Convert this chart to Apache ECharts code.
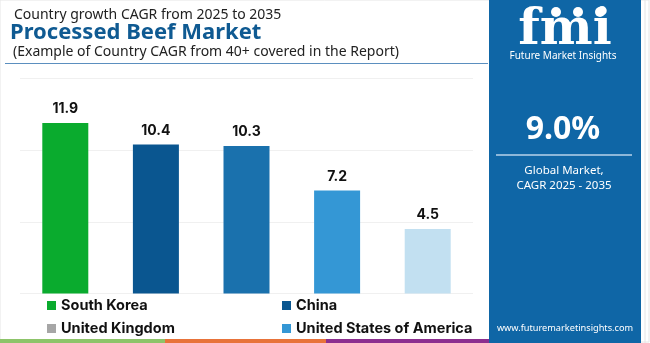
<!DOCTYPE html>
<html>
<head>
<meta charset="utf-8">
<script src="https://cdn.jsdelivr.net/npm/echarts@6/dist/echarts.min.js"></script>
<style>html,body{margin:0;padding:0;background:#fff;}#c{width:650px;height:343px;}</style>
</head>
<body>
<div id="c"></div>
<script>
const categories = ['South Korea', 'China', 'United Kingdom', 'United States of America', 'Other'];
const values = [11.9, 10.4, 10.3, 7.2, 4.5];
const barColors = ['#0aab2e', '#0a5690', '#1a71ad', '#3497d5', '#c2e0f1'];
const legendLeft = ['South Korea', 'United Kingdom'];
const legendRight = ['China', 'United States of America'];
const legendColors = {'South Korea': '#0aab2e', 'China': '#0a5690', 'United Kingdom': '#a6a6a6', 'United States of America': '#3497d5'};
const yTicks = [0, 5, 10, 15];

const chart = echarts.init(document.getElementById('c'), null, {renderer: 'canvas'});
const series = categories.map((name, i) => ({
  name: name,
  type: 'bar',
  barWidth: 46,
  barGap: '-100%',
  data: categories.map((c, j) => j === i ? values[i] : '-'),
  itemStyle: {color: barColors[i]},
  label: {show: true, position: 'top', distance: 7, color: '#111', fontWeight: 'bold', fontSize: 14, fontFamily: 'Inter'}
}));
const legendText = {color: '#111', fontWeight: 'bold', fontSize: 14.5, fontFamily: 'Inter'};
function mkLegend(names, left) {
  return {
    orient: 'vertical', left: left, top: 293, height: 80, itemWidth: 9, itemHeight: 9, itemGap: 8,
    icon: 'rect', textStyle: legendText, selectedMode: false,
    data: names.map(n => ({name: n, itemStyle: {color: legendColors[n]}}))
  };
}
chart.setOption({
  animation: false,
  backgroundColor: '#fff',
  grid: {left: 20, right: 177, top: 78.6, bottom: 49.4},
  xAxis: {type: 'category', data: categories, axisLine: {show: false}, axisTick: {show: false}, axisLabel: {show: false}},
  yAxis: {type: 'value', min: yTicks[0], max: yTicks[yTicks.length - 1], interval: 5, axisLabel: {show: false},
    splitLine: {lineStyle: {color: '#f0f0f0', width: 1}}},
  legend: [mkLegend(legendLeft, 42), mkLegend(legendRight, 277)],
  series: series,
  graphic: [
    {type: 'rect', shape: {x: 0, y: 0, width: 649, height: 342}, style: {fill: 'none', stroke: '#e6e6e6', lineWidth: 1}, z: -1},
    {type: 'text', x: 14, y: 15, style: {text: 'Country growth CAGR from 2025 to 2035', fill: '#222', font: '14px "Noto Sans"', verticalAlign: 'middle'}},
    {type: 'text', x: 10, y: 33, style: {text: 'Processed Beef Market', fill: '#0f5a92', font: 'bold 22px "Noto Sans"', verticalAlign: 'middle'}},
    {type: 'text', x: 13, y: 52, style: {text: '(Example of Country CAGR from 40+ covered in the Report)', fill: '#222', font: '14px "Noto Sans"', verticalAlign: 'middle'}},
    {type: 'line', shape: {x1: 5, y1: 63.5, x2: 488, y2: 63.5}, style: {stroke: '#5b8fbf', lineWidth: 1}},
    {type: 'rect', shape: {x: 0, y: 339, width: 165, height: 4}, style: {fill: '#8dc46a'}},
    {type: 'rect', shape: {x: 165, y: 339, width: 161, height: 4}, style: {fill: '#e8733a'}},
    {type: 'rect', shape: {x: 326, y: 339, width: 163, height: 4}, style: {fill: '#8c2e8f'}},
    {type: 'rect', shape: {x: 489, y: 0, width: 152, height: 343}, style: {fill: '#0f66a6'}},
    {type: 'line', shape: {x1: 645, y1: 0, x2: 645, y2: 343}, style: {stroke: '#e4e4e4', lineWidth: 1}},
    {type: 'text', x: 565, y: 31, style: {text: 'fmi', fill: '#fff', font: 'bold 50px "DejaVu Serif"', align: 'center', verticalAlign: 'middle'}},
    {type: 'circle', shape: {cx: 556, cy: 12, r: 5}, style: {fill: '#fff'}},
    {type: 'circle', shape: {cx: 578, cy: 12, r: 5}, style: {fill: '#fff'}},
    {type: 'circle', shape: {cx: 600, cy: 12, r: 5}, style: {fill: '#fff'}},
    {type: 'text', x: 563, y: 56, style: {text: 'Future Market Insights', fill: '#fff', font: '10px "Noto Sans"', align: 'center', verticalAlign: 'middle'}},
    {type: 'text', x: 563, y: 130, style: {text: '9.0%', fill: '#fff', font: 'bold 32px "Noto Sans"', align: 'center', verticalAlign: 'middle'}},
    {type: 'line', shape: {x1: 496, y1: 155, x2: 632, y2: 155}, style: {stroke: '#b9d3ea', lineWidth: 1.5}},
    {type: 'text', x: 564, y: 171, style: {text: 'Global Market,', fill: '#fff', font: '11.5px "Noto Sans"', align: 'center', verticalAlign: 'middle'}},
    {type: 'text', x: 564, y: 186, style: {text: 'CAGR 2025 - 2035', fill: '#fff', font: '11.5px "Noto Sans"', align: 'center', verticalAlign: 'middle'}},
    {type: 'text', x: 565, y: 328, style: {text: 'www.futuremarketinsights.com', fill: '#fff', font: '9.2px "Noto Sans"', align: 'center', verticalAlign: 'middle'}}
  ]
});
</script>
</body>
</html>
